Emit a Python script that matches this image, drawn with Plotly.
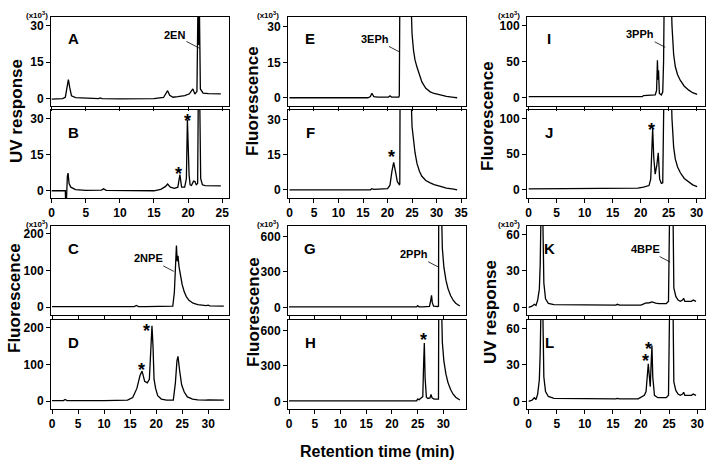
import plotly.graph_objects as go

W, H = 711, 465

# ---- chromatogram traces (retention time in min, response x10^3) ----
# A: 2EN standard (UV)
a_time = [0, 1.6, 2.0, 2.2, 2.45, 2.65, 2.9, 3.5, 5.0, 6.9, 7.1, 7.4, 10, 15, 16.4, 16.8, 17.0, 17.3,
          17.8, 18.5, 19.5, 20.2, 20.7, 21.0, 21.3, 21.45, 21.55, 21.65, 21.8, 22.2, 23.0, 24.8]
a_resp = [-0.2, 0, 0.6, 4, 7.8, 4.5, 1.2, 0.4, 0.1, 0, 0.3, 0, -0.1, 0, 0.5, 2.5, 3.3, 1.4,
          0.6, 0.8, 1.3, 2.0, 4.0, 1.9, 3, 40, 22, 40, 4, 2.3, 2.1, 2.0]
# B: sample (UV)
b_time = [0, 2.0, 2.05, 2.15, 2.3, 2.4, 2.55, 2.8, 3.5, 5, 7.3, 7.6, 8, 12, 15, 16, 16.7, 17.0, 17.4,
          18, 18.5, 18.8, 19.05, 19.5, 19.75, 19.9, 20.05, 20.15, 20.3, 20.5, 20.8, 21.0, 21.2, 21.4,
          21.5, 21.7, 21.85, 22.1, 22.5, 24.8]
b_resp = [0, 0, -5, -5, 6, 7.3, 3, 1.5, 0.5, 0.2, 0.3, 0.8, 0.2, 0, 0, 0.6, 1.8, 2.8, 1.5,
          1, 1.5, 6.7, 1.5, 1.5, 5, 29.5, 8, 6.5, 2.5, 2.2, 4, 3.8, 2.5, 3,
          40, 40, 5, 2.5, 2.1, 2]
# E: 3EPh standard (fluorescence)
e_time = [0, 5, 10, 16, 16.5, 16.8, 17.2, 18, 20.2, 20.5, 20.8, 22.3, 22.4, 22.5, 24.8, 25.0, 25.3,
          25.6, 26.0, 26.5, 27.0, 27.8, 28.7, 29.5, 30.8, 32, 33.5, 34.2]
e_resp = [0, 0, 0, 0, 0.5, 1.9, 0.5, 0.3, 0.3, 0.8, 0.3, 0.3, 1, 40, 40, 27, 20,
          16, 13, 9.5, 6.7, 4, 2.5, 1.8, 1.1, 0.6, 0.2, 0]
# F: sample (fluorescence)
f_time = [0, 10, 16.5, 16.8, 17.2, 20, 20.5, 20.9, 21.25, 21.6, 22.0, 22.4, 22.5, 22.55, 24.8, 25.0,
          25.3, 25.6, 26.0, 26.5, 27.0, 27.8, 28.7, 29.5, 30.8, 32, 33.5, 34.2]
f_resp = [0, 0, 0, 0.5, 0.2, 0.5, 2, 8, 11.8, 8, 3.5, 2.2, 2.5, 40, 40, 27,
          20, 16, 11.3, 8, 5.8, 4, 3, 2.2, 1.5, 0.7, 0.3, 0]
# I: 3PPh standard (fluorescence)
i_time = [0, 10, 20.3, 20.5, 22.6, 22.85, 23.0, 23.1, 23.2, 23.35, 23.7, 23.95, 24.1, 24.2, 25.5, 25.6,
          25.9, 26.2, 26.6, 27.1, 27.8, 28.6, 29.3, 30.1]
i_resp = [1.5, 1.5, 1.5, 3, 4, 10, 52, 25, 38, 6, 4, 8, 50, 130, 130, 100,
          60, 43, 32, 24, 16, 10.6, 7, 4.7]
# J: sample (fluorescence)
j_time = [0, 10, 19.5, 20.5, 21.5, 21.8, 22.0, 22.15, 22.35, 22.6, 22.9, 23.15, 23.4, 23.7, 23.95,
          24.05, 24.15, 25.5, 25.6, 25.9, 26.2, 26.6, 27.1, 27.8, 28.6, 29.3, 30.1]
j_resp = [1.5, 1.5, 2.5, 4, 6, 15, 60, 86, 45, 22, 35, 52, 15, 9, 10,
          60, 130, 130, 100, 60, 43, 32, 24, 16, 10.6, 7, 4.7]
# C: 2NPE standard (fluorescence)
c_time = [0, 10, 15.8, 16.2, 16.6, 18, 23.2, 23.5, 23.7, 23.9, 24.05, 24.2, 24.4, 24.7, 25.0, 25.4,
          25.8, 26.3, 27.1, 28, 29.6, 30.0, 30.3, 33]
c_resp = [2, 2, 2, 5, 2, 2, 3, 40, 110, 168, 125, 140, 110, 80, 62, 42,
          29, 19, 11, 7, 4.5, 6, 4, 3]
# D: sample (fluorescence)
d_time = [0, 2.2, 2.5, 2.9, 10, 14.5, 15.5, 16.3, 16.9, 17.3, 17.8, 18.3, 18.7, 18.9, 19.05, 19.2,
          19.4, 19.6, 19.9, 20.3, 21, 22, 23.3, 23.7, 24.0, 24.2, 24.5, 24.9, 25.4, 26, 27, 28,
          29.6, 30, 33]
d_resp = [2, 2, 5, 2, 2, 3, 10, 35, 70, 82, 54, 50, 60, 130, 140, 205,
          150, 60, 35, 15, 6, 3, 3, 50, 110, 122, 85, 45, 25, 12, 6, 4,
          3, 4, 3]
# G: 2PPh standard (fluorescence)
g_time = [0, 10, 20, 24.8, 25.0, 25.3, 26, 27.3, 27.55, 27.7, 27.85, 28.1, 28.9, 29.05, 29.1, 29.65,
          29.8, 30.1, 30.5, 30.9, 31.4, 31.9, 32.4, 32.9, 33.2]
g_resp = [5, 5, 5, 5, 15, 5, 5, 8, 60, 103, 40, 10, 8, 10, 800, 800,
          500, 340, 230, 159, 100, 61, 35, 19, 12]
# H: sample (fluorescence)
h_time = [0, 10, 20, 24.8, 25.0, 25.3, 25.7, 26.0, 26.15, 26.3, 26.45, 26.7, 27.0, 27.4, 27.6, 27.8,
          28.2, 28.9, 29.05, 29.1, 29.65, 29.8, 30.1, 30.5, 30.9, 31.4, 31.9, 32.4, 32.9, 33.2]
h_resp = [5, 5, 5, 5, 20, 15, 30, 40, 300, 494, 200, 35, 25, 30, 60, 30,
          20, 15, 20, 800, 800, 500, 340, 230, 159, 100, 61, 35, 19, 12]
# K: 4BPE standard (UV)
k_time = [0, 0.6, 1.0, 1.3, 1.6, 1.9, 2.05, 2.2, 2.5, 2.7, 3.0, 3.5, 4.5, 10, 15.5, 15.8, 16.2, 20,
          20.8, 21.5, 22.0, 22.6, 23.2, 24.5, 24.9, 25.1, 25.7, 25.85, 26.2, 26.6, 27.0, 27.4, 27.6,
          27.8, 28.5, 29.0, 29.3, 29.6, 29.8]
k_resp = [0, 1, 2.5, 1.5, 6, 15, 35, 80, 80, 20, 7, 3.3, 2.2, 1.8, 1.8, 2.5, 1.8, 1.8,
          3.5, 3.8, 4.5, 3.5, 3, 3, 5, 80, 80, 16, 9, 6, 5, 6, 7.5,
          5, 5, 5, 6, 5, 5]
# L: sample (UV)
l_time = [0, 0.6, 1.0, 1.3, 1.6, 1.9, 2.05, 2.2, 2.5, 2.7, 3.0, 3.5, 4.5, 10, 15.5, 15.8, 16.2, 19.5,
          20.2, 20.6, 20.9, 21.1, 21.3, 21.5, 21.65, 21.8, 21.95, 22.1, 22.4, 23, 24.5, 24.9, 25.1,
          25.7, 25.85, 26.2, 26.6, 27.0, 27.4, 27.6, 27.8, 28.5, 29.0, 29.3, 29.6, 29.8]
l_resp = [0, 1, 3, 1.5, 6, 18, 40, 80, 80, 20, 8, 4, 2.5, 2, 2, 2.5, 2, 2,
          4, 5, 8, 20, 31, 20, 12, 30, 46, 20, 5, 3, 3, 5, 80,
          80, 16, 9, 6, 5, 6, 7.5, 5, 5, 5, 6, 5, 5]

# standard compound labels: (text, time, response at leader end)
std_labels = {"A": ("2EN", 21.66, 20.7), "E": ("3EPh", 22.45, 19.4), "I": ("3PPh", 24.4, 70),
              "C": ("2NPE", 23.4, 97.5), "G": ("2PPh", 29.1, 340), "K": ("4BPE", 25.2, 37.3)}
# asterisk marks: (time, response)
star_marks = {"B": [(19.85, 30.9), (18.6, 8.9)], "F": [(20.9, 16)], "J": [(22.0, 91)],
              "D": [(18.15, 206), (17.2, 100)], "H": [(26.1, 558)], "L": [(21.3, 47.3), (20.8, 37.5)]}

# panel: letter, time, resp, column, row, x range, y range, y dtick, show x labels
cols = {"L": (51, 229), "M": (288, 466), "R": (527, 705)}
mult_dx = {"L": -14, "M": -20, "R": -18}
rows = {1: (17, 106), 2: (110, 198), 3: (226, 315), 4: (320, 409)}
panels = [
    ("A", a_time, a_resp, "L", 1, [-0.1, 26], [-3, 33.5], 15, False),
    ("B", b_time, b_resp, "L", 2, [-0.1, 26], [-3, 33.5], 15, True),
    ("E", e_time, e_resp, "M", 1, [-0.3, 36], [-3.5, 34.2], 15, False),
    ("F", f_time, f_resp, "M", 2, [-0.3, 36], [-3.5, 34.2], 15, True),
    ("I", i_time, i_resp, "R", 1, [-0.3, 31.5], [-11.4, 112], 50, False),
    ("J", j_time, j_resp, "R", 2, [-0.3, 31.5], [-11.4, 112], 50, True),
    ("C", c_time, c_resp, "L", 3, [-0.2, 34], [-21, 221], 100, False),
    ("D", d_time, d_resp, "L", 4, [-0.2, 34], [-21, 221], 100, True),
    ("G", g_time, g_resp, "M", 3, [-0.2, 34.4], [-64, 688], 300, False),
    ("H", h_time, h_resp, "M", 4, [-0.2, 34.4], [-64, 688], 300, True),
    ("K", k_time, k_resp, "R", 3, [-0.3, 31.4], [-6.3, 67], 30, False),
    ("L", l_time, l_resp, "R", 4, [-0.3, 31.4], [-6.3, 67], 30, True),
]

FONT = "Liberation Sans, Arial, sans-serif"
tick_font = dict(family=FONT, size=12, color="black", weight="bold")


def paper(x, y):
    return x / W, 1 - y / H


def note(x, y, text, size, **kw):
    px_, py_ = paper(x, y)
    return dict(x=px_, y=py_, xref="paper", yref="paper", text=text, showarrow=False,
                xanchor="center", yanchor="middle",
                font=dict(family=FONT, size=size, color="black", weight="bold"), **kw)


fig = go.Figure()
layout = {}
annotations = []
for n, (letter, t, r, col, row, xr, yr, ydt, xlab) in enumerate(panels, start=1):
    sfx = "" if n == 1 else str(n)
    fig.add_trace(go.Scatter(x=t, y=r, mode="lines", line=dict(color="black", width=1.3),
                             xaxis="x" + sfx, yaxis="y" + sfx, showlegend=False, hoverinfo="skip"))
    x0, x1 = cols[col]
    y0, y1 = rows[row]
    axis_common = dict(showline=True, linecolor="black", linewidth=1, mirror=True, ticks="outside",
                       ticklen=4, tickwidth=1, tickcolor="black", showgrid=False, zeroline=False,
                       tickfont=tick_font, tick0=0, automargin=False)
    layout["xaxis" + sfx] = dict(axis_common, domain=[x0 / W, x1 / W], range=xr, dtick=5,
                                 showticklabels=xlab, anchor="y" + sfx)
    layout["yaxis" + sfx] = dict(axis_common, domain=[1 - y1 / H, 1 - y0 / H], range=yr, dtick=ydt,
                                 anchor="x" + sfx)
    # panel letter
    annotations.append(note(x0 + 22, y0 + 22, letter, 15))
    if letter in std_labels:
        txt, tx, ty = std_labels[letter]
        annotations.append(dict(x=tx, y=ty, xref="x" + sfx, yref="y" + sfx, text=txt,
                                showarrow=True, arrowhead=0, arrowwidth=0.8, arrowcolor="black",
                                ax=-25, ay=-13, standoff=0,
                                font=dict(family=FONT, size=11, color="black", weight="bold")))
        # (x10^3) multiplier above the y axis
        annotations.append(note(x0 + mult_dx[col], y0 - 2, "(x10<sup>3</sup>)", 8))
    for sx, sy in star_marks.get(letter, []):
        annotations.append(dict(x=sx, y=sy, xref="x" + sfx, yref="y" + sfx, text="*",
                                showarrow=False, yshift=-5, xanchor="center", yanchor="middle",
                                font=dict(family=FONT, size=18, color="black", weight="bold")))

# y-axis titles
ytitles = [("UV response", 16, 111), ("Fluorescence", 253, 101), ("Fluorescence", 487, 116),
           ("Fluorescence", 14, 298), ("Fluorescence", 253, 312), ("UV response", 490, 312)]
for txt, x, y in ytitles:
    annotations.append(note(x, y, txt, 17, textangle=-90))
# shared x-axis title
annotations.append(note(377, 451, "Retention time (min)", 16))

fig.update_layout(width=W, height=H, margin=dict(l=0, r=0, t=0, b=0, autoexpand=False),
                  paper_bgcolor="white", plot_bgcolor="white", annotations=annotations, **layout)
# page body margin would shift the 711x465 figure inside the same-sized window
fig.write_html("out.html", config={"displayModeBar": False},
               post_script="document.body.style.margin = '0';")
